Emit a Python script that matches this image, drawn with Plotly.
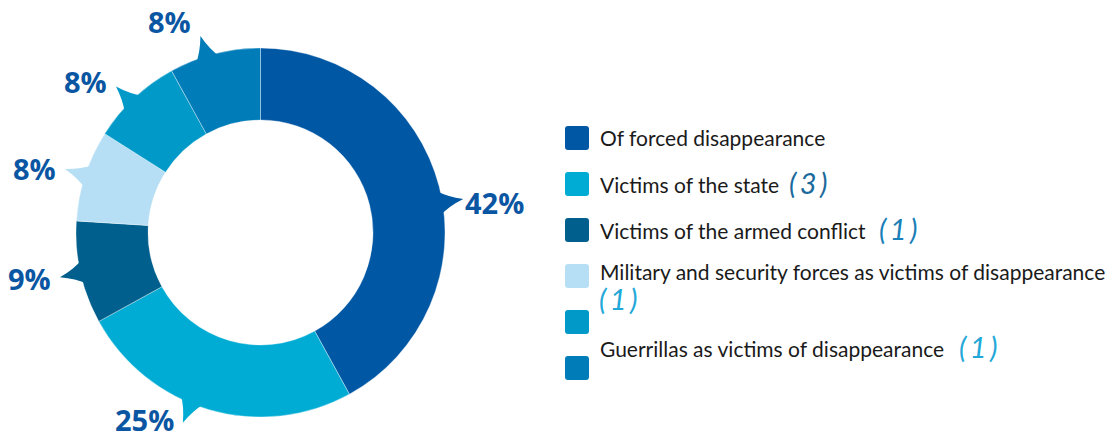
import math
import plotly.graph_objects as go

# ---- data ----
categories = [
    "Of forced disappearance",
    "Victims of the state",
    "Victims of the armed conflict",
    "Military and security forces as victims of disappearance",
    "Guerrillas as victims of disappearance",
    "Other",
]
shares = [42, 25, 9, 8, 8, 8]
pct_labels = ["42%", "25%", "9%", "8%", "8%", "8%"]

# legend text lines (as shown in the chart)
legend_lines = [
    "Of forced disappearance",
    "Victims of the state",
    "Victims of the armed conflict",
    "Military and security forces as victims of disappearance",
    "",
    "Guerrillas as victims of disappearance",
]
legend_notes = ["", "(3)", "(1)", "", "", "(1)"]

# ---- styles ----
colors = ["#0057a4", "#00acd4", "#005f8c", "#b6dff5", "#0099c8", "#007cb8"]
label_color = "#0a56a2"
W, H = 1114, 438
CX, CY, R_OUT, R_IN = 260.5, 232.5, 184.5, 112.5
angle_adjust = [5.0, 6.0, 0.0, 0.0, -1.5, -2.6]
label_dy = [4, -3, 1, 0, -5, -14]


def px(x):
    return x / W


def py(y):
    return 1 - y / H


fig = go.Figure()
fig.add_trace(go.Pie(
    labels=categories,
    values=shares,
    sort=False,
    direction="clockwise",
    rotation=0,
    hole=R_IN / R_OUT,
    marker=dict(colors=colors, line=dict(color="rgba(255,255,255,0.6)", width=0.6)),
    textinfo="none",
    hoverinfo="label+percent",
    showlegend=False,
    domain=dict(x=[px(CX - R_OUT), px(CX + R_OUT)], y=[py(CY + R_OUT), py(CY - R_OUT)]),
))

shapes = []
annotations = []


def pt(ang_deg, r):
    a = math.radians(ang_deg)
    return CX + r * math.sin(a), CY - r * math.cos(a)


total = sum(shares)
cum = 0
for i, v in enumerate(shares):
    mid = (cum + v / 2) / total * 360 + angle_adjust[i]
    cum += v
    d = 4.0
    b1 = pt(mid - d, R_OUT - 4)
    b2 = pt(mid + d, R_OUT - 4)
    c1 = pt(mid - d * 0.35, R_OUT + 6)
    c2 = pt(mid + d * 0.35, R_OUT + 6)
    tip = pt(mid, R_OUT + 21)
    path = (f"M {px(b1[0])},{py(b1[1])} Q {px(c1[0])},{py(c1[1])} {px(tip[0])},{py(tip[1])} "
            f"Q {px(c2[0])},{py(c2[1])} {px(b2[0])},{py(b2[1])} Z")
    shapes.append(dict(type="path", xref="paper", yref="paper", path=path,
                       fillcolor=colors[i], line=dict(width=0), layer="above"))
    right_side = math.sin(math.radians(mid)) > 0
    lx = tip[0] + (0 if right_side else -7)
    annotations.append(dict(
        x=px(lx), y=py(tip[1] + label_dy[i]), xref="paper", yref="paper",
        text=f"<b>{pct_labels[i]}</b>", showarrow=False,
        xanchor="left" if right_side else "right", yanchor="middle",
        font=dict(family="Open Sans", size=29, color=label_color),
    ))

# ---- legend ----
row_y = [138, 184, 230, 276, 322, 368]
text_y = [138, 184, 230, 271, 298, 348]
sq_x0, sq_size, rad = 565, 24, 3
for i, c in enumerate(colors):
    x0, y0 = sq_x0, row_y[i] - sq_size / 2
    x1, y1 = x0 + sq_size, y0 + sq_size
    p = (f"M {px(x0+rad)},{py(y0)} L {px(x1-rad)},{py(y0)} Q {px(x1)},{py(y0)} {px(x1)},{py(y0+rad)} "
         f"L {px(x1)},{py(y1-rad)} Q {px(x1)},{py(y1)} {px(x1-rad)},{py(y1)} "
         f"L {px(x0+rad)},{py(y1)} Q {px(x0)},{py(y1)} {px(x0)},{py(y1-rad)} "
         f"L {px(x0)},{py(y0+rad)} Q {px(x0)},{py(y0)} {px(x0+rad)},{py(y0)} Z")
    shapes.append(dict(type="path", xref="paper", yref="paper", path=p,
                       fillcolor=c, line=dict(width=0)))

note_colors = ["#1a6fa6", "#1b6a9c", "#1a80b8", "#22a8d8", "#22a8d8", "#22a8d8"]
note_x = [0, 787, 877, 0, 0, 957]
THIN = "\u2009"


def note_text(s):
    return "<i>" + THIN.join(list(s)) + "</i>"


for i, t in enumerate(legend_lines):
    if t:
        annotations.append(dict(
            x=px(598), y=py(text_y[i]), xref="paper", yref="paper", text=t,
            showarrow=False, xanchor="left", yanchor="middle",
            font=dict(family="Lato", size=21, color="#1a1a1a"),
        ))
    if legend_notes[i]:
        annotations.append(dict(
            x=px(note_x[i]), y=py(text_y[i] - 2), xref="paper", yref="paper",
            text=note_text(legend_notes[i]), showarrow=False, xanchor="left", yanchor="middle",
            font=dict(family="Lato", size=29, color=note_colors[i]),
        ))
# the wrapped "(1)" for the military line
annotations.append(dict(
    x=px(597), y=py(298), xref="paper", yref="paper", text=note_text("(1)"),
    showarrow=False, xanchor="left", yanchor="middle",
    font=dict(family="Lato", size=29, color="#22a8d8"),
))

fig.update_layout(
    width=W, height=H, autosize=False,
    margin=dict(l=0, r=0, t=0, b=0),
    paper_bgcolor="white", plot_bgcolor="white",
    shapes=shapes, annotations=annotations,
)
fig.write_html("out.html")
